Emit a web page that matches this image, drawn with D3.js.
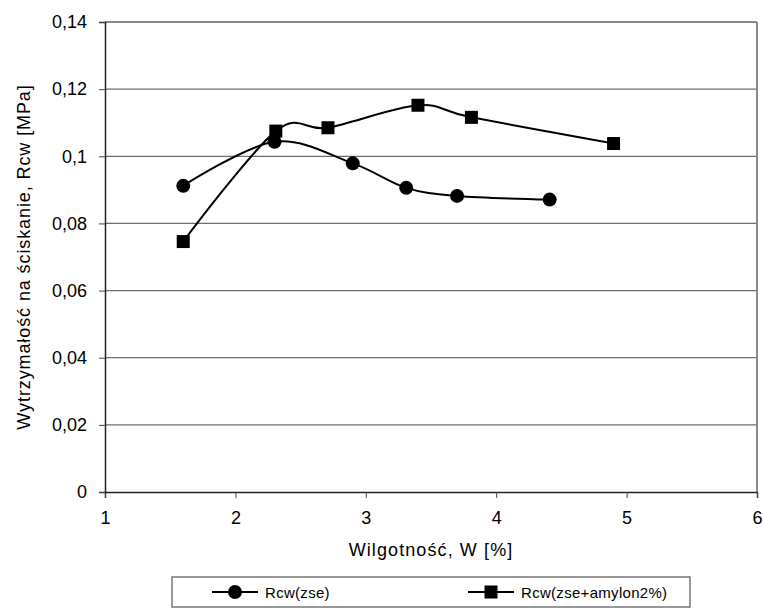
<!DOCTYPE html>
<html>
<head>
<meta charset="utf-8">
<script src="https://cdn.jsdelivr.net/npm/d3@7"></script>
<style>
  html, body { margin: 0; padding: 0; background: #fff; }
  svg { display: block; font-family: "Liberation Sans", Arial, sans-serif; }
</style>
</head>
<body>
<svg id="chart" width="763" height="612"></svg>
<script>
// Moisture content W [%] and compressive strength Rcw [MPa]
const wZse = [1.6, 2.3, 2.9, 3.31, 3.7, 4.41];
const rcwZse = [0.0912, 0.1043, 0.0979, 0.0906, 0.0882, 0.0871];
const wAmylon = [1.6, 2.31, 2.71, 3.4, 3.81, 4.9];
const rcwAmylon = [0.0746, 0.1075, 0.1085, 0.1152, 0.1116, 0.1038];
const seriesNames = ["Rcw(zse)", "Rcw(zse+amylon2%)"];
const xTicks = [1, 2, 3, 4, 5, 6];
const yTicks = [0, 0.02, 0.04, 0.06, 0.08, 0.1, 0.12, 0.14];
const xTitle = "Wilgotność, W [%]";
const yTitle = "Wytrzymałość na ściskanie, Rcw [MPa]";

const svg = d3.select("#chart");
const plot = { left: 105, right: 757, top: 22, bottom: 492 };

const x = d3.scaleLinear().domain([1, 6]).range([plot.left, plot.right]);
const y = d3.scaleLinear().domain([0, 0.14]).range([plot.bottom, plot.top]);
const fmt = v => String(+v.toFixed(2)).replace(".", ",");

// horizontal gridlines
svg.append("g")
  .selectAll("line")
  .data(yTicks.filter(v => v > 0))
  .join("line")
  .attr("x1", plot.left).attr("x2", plot.right)
  .attr("y1", d => y(d)).attr("y2", d => y(d))
  .attr("stroke", "#6e6e6e").attr("stroke-width", 1.2);

// right and top border
svg.append("line")
  .attr("x1", plot.right).attr("x2", plot.right)
  .attr("y1", plot.top).attr("y2", plot.bottom)
  .attr("stroke", "#8a8a8a").attr("stroke-width", 2);
svg.append("line")
  .attr("x1", plot.left).attr("x2", plot.right)
  .attr("y1", plot.top).attr("y2", plot.top)
  .attr("stroke", "#8a8a8a").attr("stroke-width", 2);

// axes
const xAxis = svg.append("g")
  .attr("transform", `translate(0,${plot.bottom})`)
  .call(d3.axisBottom(x).tickValues(xTicks).tickSize(6).tickPadding(13).tickFormat(d => d));
const yAxis = svg.append("g")
  .attr("transform", `translate(${plot.left},0)`)
  .call(d3.axisLeft(y).tickValues(yTicks).tickSize(6).tickPadding(12).tickFormat(fmt));

[xAxis, yAxis].forEach(g => {
  g.select(".domain").attr("stroke", "#222").attr("stroke-width", 1.5);
  g.selectAll(".tick line").attr("stroke", "#444");
  g.selectAll("text").attr("font-size", 18).attr("fill", "#000")
    .attr("font-family", "Liberation Sans, Arial, sans-serif");
});

// axis titles
svg.append("text")
  .attr("x", (plot.left + plot.right) / 2).attr("y", 556)
  .attr("text-anchor", "middle").attr("font-size", 18)
  .attr("letter-spacing", 1.1)
  .text(xTitle);
svg.append("text")
  .attr("transform", `translate(30,${(plot.top + plot.bottom) / 2}) rotate(-90)`)
  .attr("text-anchor", "middle").attr("font-size", 18)
  .attr("letter-spacing", 0.9)
  .text(yTitle);

// smoothed series lines
const line = d3.line().x(d => x(d[0])).y(d => y(d[1])).curve(d3.curveCardinal.tension(0));
const zse = wZse.map((w, i) => [w, rcwZse[i]]);
const amylon = wAmylon.map((w, i) => [w, rcwAmylon[i]]);

svg.append("path").datum(zse).attr("d", line)
  .attr("fill", "none").attr("stroke", "#000").attr("stroke-width", 2);
svg.append("path").datum(amylon).attr("d", line)
  .attr("fill", "none").attr("stroke", "#000").attr("stroke-width", 2);

// markers
svg.append("g").selectAll("circle").data(zse).join("circle")
  .attr("cx", d => x(d[0])).attr("cy", d => y(d[1])).attr("r", 7).attr("fill", "#000");
const sq = 13;
svg.append("g").selectAll("rect").data(amylon).join("rect")
  .attr("x", d => x(d[0]) - sq / 2).attr("y", d => y(d[1]) - sq / 2)
  .attr("width", sq).attr("height", sq).attr("fill", "#000");

// legend
const legend = svg.append("g");
legend.append("rect")
  .attr("x", 172).attr("y", 577).attr("width", 518).attr("height", 30)
  .attr("fill", "#fff").attr("stroke", "#777").attr("stroke-width", 1.5);
const entries = [
  { x0: 212, name: seriesNames[0], shape: "circle" },
  { x0: 468, name: seriesNames[1], shape: "square" }
];
const ly = 592;
entries.forEach(e => {
  legend.append("line").attr("x1", e.x0).attr("x2", e.x0 + 46)
    .attr("y1", ly).attr("y2", ly).attr("stroke", "#000").attr("stroke-width", 2);
  if (e.shape === "circle") {
    legend.append("circle").attr("cx", e.x0 + 23).attr("cy", ly).attr("r", 7).attr("fill", "#000");
  } else {
    legend.append("rect").attr("x", e.x0 + 23 - sq / 2).attr("y", ly - sq / 2)
      .attr("width", sq).attr("height", sq).attr("fill", "#000");
  }
  legend.append("text").attr("x", e.x0 + 53).attr("y", ly + 5.5)
    .attr("font-size", 15).attr("letter-spacing", 0.3).text(e.name);
});
</script>
</body>
</html>
